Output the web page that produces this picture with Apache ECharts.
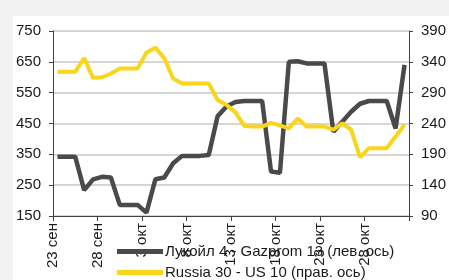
<!DOCTYPE html>
<html>
<head>
<meta charset="utf-8">
<script src="https://cdn.jsdelivr.net/npm/echarts@6/dist/echarts.min.js"></script>
<style>
  html, body { margin: 0; padding: 0; background: #f2f2f2; width: 449px; height: 280px; overflow: hidden; }
  #main { position: absolute; left: 13px; top: 16px; width: 436px; height: 264px; background: #ffffff; }
</style>
</head>
<body>
<div id="main"></div>
<script>
// подписи оси X (каждые 5 дней), 40 дней с 23 сен
var tickLabels = ['23 сен', '28 сен', '3 окт', '8 окт', '13 окт', '18 окт', '23 окт', '28 окт', ''];
var seriesNames = ['Лукойл 4 - Gazprom 13 (лев. ось)', 'Russia 30 - US 10 (прав. ось)'];
// Лукойл 4 - Gazprom 13 (лев. ось)
var spreadLkoh = [342, 342, 342, 234, 269, 277, 275, 186, 186, 186,
                  161, 269, 275, 321, 345, 345, 345, 348, 474, 505,
                  520, 523, 523, 523, 294, 290, 650, 652, 645, 645,
                  645, 423, 456, 488, 514, 523, 523, 523, 434, 640];
// Russia 30 - US 10 (прав. ось)
var spreadRus = [324, 324, 324, 346, 314, 315, 321, 329, 329, 329,
                 355, 363, 346, 313, 305, 305, 305, 305, 278, 270,
                 258, 236, 235, 235, 241, 237, 232, 248, 235, 235,
                 235, 230, 240, 230, 185, 200, 200, 200, 219, 238];

function toPoints(arr) {
    return arr.map(function (v, i) { return [i + 0.5, v]; });
}

var chart = echarts.init(document.getElementById('main'), null, { renderer: 'canvas' });
var fontFamily = 'Liberation Sans, Arial, sans-serif';

function legendAt(top, name) {
    return {
        orient: 'horizontal',
        left: 99,
        top: top,
        itemWidth: 46,
        itemHeight: 5,
        itemGap: 0,
        icon: 'rect',
        textStyle: { fontSize: 15, color: '#1a1a1a', fontFamily: fontFamily, padding: [0, 0, 0, -3] },
        data: [name]
    };
}

chart.setOption({
    animation: false,
    textStyle: { fontFamily: fontFamily },
    grid: { left: 40, right: 32, top: 15, bottom: 64 },
    legend: [legendAt(223, seriesNames[0]), legendAt(244, seriesNames[1])],
    xAxis: {
        type: 'value',
        min: 0,
        max: 40,
        interval: 5,
        axisLine: { show: true, lineStyle: { color: '#404040', width: 1 } },
        axisTick: { show: true, length: 5, lineStyle: { color: '#404040' } },
        splitLine: { show: false },
        axisLabel: {
            rotate: 90,
            margin: 7,
            fontSize: 15,
            color: '#1a1a1a',
            formatter: function (v) { return tickLabels[Math.round(v / 5)] || ''; }
        }
    },
    yAxis: [{
        type: 'value',
        min: 150,
        max: 750,
        interval: 100,
        axisLine: { show: true, lineStyle: { color: '#404040', width: 1 } },
        axisTick: { show: true, length: 4, lineStyle: { color: '#404040' } },
        splitLine: { show: true, lineStyle: { color: '#c8c8c8', width: 1.5 } },
        axisLabel: { fontSize: 15, color: '#1a1a1a', margin: 12 }
    }, {
        type: 'value',
        min: 90,
        max: 390,
        interval: 50,
        position: 'right',
        axisLine: { show: true, lineStyle: { color: '#404040', width: 1 } },
        axisTick: { show: true, length: 4, lineStyle: { color: '#404040' } },
        splitLine: { show: false },
        axisLabel: { fontSize: 15, color: '#1a1a1a', margin: 12 }
    }],
    series: [{
        name: seriesNames[0],
        type: 'line',
        yAxisIndex: 0,
        data: toPoints(spreadLkoh),
        showSymbol: false,
        symbol: 'none',
        itemStyle: { color: '#4a4a4a' },
        lineStyle: { color: '#4a4a4a', width: 4.5 },
        z: 3
    }, {
        name: seriesNames[1],
        type: 'line',
        yAxisIndex: 1,
        data: toPoints(spreadRus),
        showSymbol: false,
        symbol: 'none',
        itemStyle: { color: '#f9d51c' },
        lineStyle: { color: '#f9d51c', width: 4 },
        z: 4
    }]
});
</script>
</body>
</html>
